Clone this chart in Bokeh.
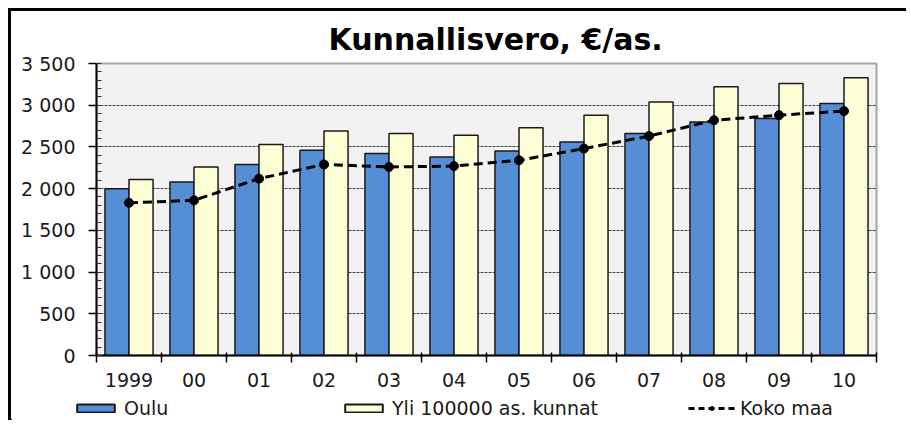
from bokeh.plotting import figure
from bokeh.layouts import column
from bokeh.models import (ColumnDataSource, FixedTicker, Legend, LegendItem, Range1d)
from bokeh.transform import dodge
from bokeh.embed import file_html
from bokeh.resources import INLINE

years = ["1999", "00", "01", "02", "03", "04", "05", "06", "07", "08", "09", "10"]
oulu = [2000, 2080, 2290, 2460, 2420, 2380, 2450, 2560, 2660, 2800, 2840, 3020]
yli100k = [2110, 2260, 2530, 2690, 2660, 2640, 2730, 2880, 3040, 3220, 3260, 3330]
koko_maa = [1830, 1860, 2120, 2290, 2260, 2270, 2340, 2480, 2630, 2820, 2880, 2930]
y_ticks = [0, 500, 1000, 1500, 2000, 2500, 3000, 3500]
y_labels = ["0", "500", "1 000", "1 500", "2 000", "2 500", "3 000", "3 500"]
series_names = ["Oulu", "Yli 100000 as. kunnat", "Koko maa"]

pos = [i + 0.5 for i in range(len(years))]
src = ColumnDataSource(dict(pos=pos, oulu=oulu, yli=yli100k, koko=koko_maa))

FONT = "DejaVu Sans"
BLUE = "#558ed5"
CREAM = "#ffffd6"
EDGE = "#1a1a1a"

p = figure(width=895, height=384, output_backend="svg", toolbar_location=None,
           x_range=Range1d(0, len(years)), y_range=Range1d(0, 3500),
           min_border_left=85, min_border_right=30, min_border_top=52, min_border_bottom=40)
p.frame_align = False

p.title.text = "Kunnallisvero, €/as."
p.title.text_font = FONT
p.title.text_font_size = "30px"
p.title.text_font_style = "bold"
p.title.align = "left"
p.title.offset = 232
p.title.standoff = 13
p.title.text_color = "black"

p.background_fill_color = "#f2f2f2"
p.border_fill_color = "white"
p.outline_line_color = "#a6a6a6"
p.outline_line_width = 2

bw = 0.37
p.vbar(x=dodge("pos", -0.185), top="oulu", width=bw, source=src,
       fill_color=BLUE, line_color=EDGE, line_width=1.5)
p.vbar(x=dodge("pos", 0.185), top="yli", width=bw, source=src,
       fill_color=CREAM, line_color=EDGE, line_width=1.5)
p.line(x="pos", y="koko", source=src, line_color="black", line_width=3, line_dash="9 5")
p.scatter(x="pos", y="koko", source=src, size=9, marker="circle",
          fill_color="black", line_color="black")

# x axis: labels at group centres, ticks at group boundaries
xa = p.xaxis[0]
xa.ticker = FixedTicker(ticks=pos, minor_ticks=list(range(len(years) + 1)))
xa.major_label_overrides = {pos_i: lab for pos_i, lab in zip(pos, years)}
xa.major_tick_line_color = None
xa.major_tick_out = 7
xa.major_tick_in = 0
xa.minor_tick_line_color = "black"
xa.minor_tick_line_width = 1.5
xa.minor_tick_in = 3
xa.minor_tick_out = 7
xa.major_label_standoff = 10
xa.axis_line_color = "black"
xa.axis_line_width = 2
xa.major_label_text_font = FONT
xa.major_label_text_font_size = "19px"
xa.major_label_text_color = EDGE

ya = p.yaxis[0]
ya.ticker = FixedTicker(ticks=y_ticks, minor_ticks=list(range(0, 3501, 100)))
ya.major_label_overrides = {t: l for t, l in zip(y_ticks, y_labels)}
ya.major_tick_out = 8
ya.major_tick_in = 0
ya.major_tick_line_width = 1.5
ya.minor_tick_in = 5
ya.minor_tick_out = 0
ya.minor_tick_line_color = "#333333"
ya.major_label_standoff = 13
ya.axis_line_color = "black"
ya.axis_line_width = 2
ya.major_label_text_font = FONT
ya.major_label_text_font_size = "19px"
ya.major_label_text_color = EDGE

p.xgrid.grid_line_color = None
p.ygrid.ticker = FixedTicker(ticks=y_ticks)
p.ygrid.grid_line_color = "#444444"
p.ygrid.grid_line_dash = "3 1"
p.ygrid.grid_line_width = 1

# legend strip below the chart (its ranges keep the proxy glyphs out of view)
lf = figure(width=895, height=25, output_backend="svg", toolbar_location=None,
            x_range=Range1d(50, 62), y_range=Range1d(4000, 5000),
            x_axis_location=None, y_axis_location=None,
            min_border_left=0, min_border_right=0, min_border_top=0, min_border_bottom=0)
lf.frame_align = False
lf.outline_line_color = None
lf.background_fill_color = "white"
lf.xgrid.grid_line_color = None
lf.ygrid.grid_line_color = None

l_oulu = lf.vbar(x="pos", top="oulu", width=0, source=src,
                 fill_color=BLUE, line_color=EDGE, line_width=2)
l_yli = lf.vbar(x="pos", top="yli", width=0, source=src,
                fill_color=CREAM, line_color=EDGE, line_width=2)
l_line = lf.line(x="pos", y="koko", source=src, line_color="black", line_width=3,
                 line_dash="6 4")
l_pts = lf.scatter(x="pos", y="koko", source=src, size=9, marker="circle",
                   fill_color="black", line_color="black")

def add_legend(label, rends, x):
    lg = Legend(items=[LegendItem(label=label, renderers=rends)], location=(x, 1),
                orientation="horizontal", glyph_width=47, glyph_height=10,
                label_text_font=FONT, label_text_font_size="19px", label_text_color=EDGE,
                background_fill_alpha=0, border_line_color=None,
                padding=0, margin=0, label_standoff=5, spacing=0)
    lf.add_layout(lg, "center")

add_legend(series_names[0], [l_oulu], 61)
add_legend(series_names[1], [l_yli], 329)
add_legend(series_names[2], [l_line, l_pts], 677)

layout = column(p, lf, spacing=0)
layout.styles = {"border-top": "3px solid black", "border-left": "3px solid black",
                 "margin-top": "8px", "margin-left": "8px"}

open("out.html", "w").write(file_html(layout, INLINE))
